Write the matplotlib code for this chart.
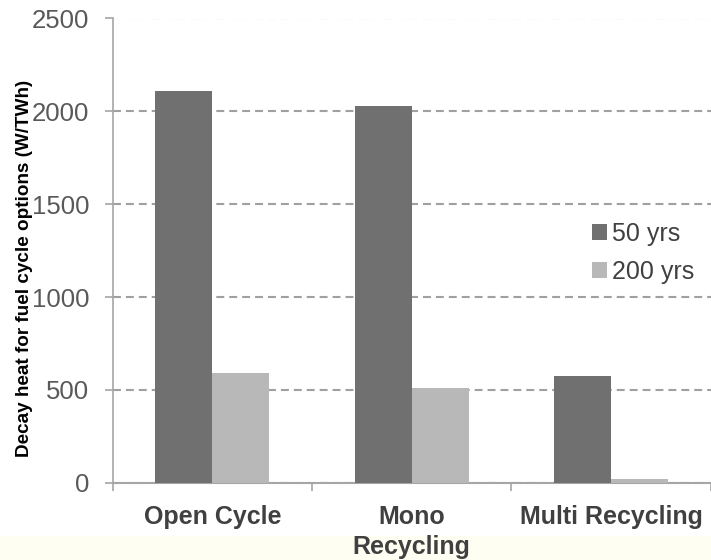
import numpy as np
import matplotlib
matplotlib.use("Agg")
import matplotlib.pyplot as plt
from matplotlib.patches import Rectangle

plt.rcParams['font.family'] = ['Liberation Sans', 'DejaVu Sans']

categories = ["Open Cycle", "Mono\nRecycling", "Multi Recycling"]
heat_50 = [2112, 2030, 572]
heat_200 = [592, 508, 18]
series_names = ["50 yrs", "200 yrs"]
yticks = [0, 500, 1000, 1500, 2000, 2500]

fig = plt.figure(figsize=(7.11, 5.60), dpi=100)
# faint cream strip along the bottom edge
fig.patches.append(Rectangle((0, 0), 1, 24 / 560, transform=fig.transFigure,
                             facecolor="#fefef3", edgecolor="none", zorder=-1))
ax = fig.add_axes([112.7 / 711, 1 - 482.7 / 560, 598 / 711, 464.2 / 560])

x = np.arange(len(categories))
w = 0.286
ax.bar(x - w / 2, heat_50, w, color="#707070", label=series_names[0], zorder=3)
ax.bar(x + w / 2, heat_200, w, color="#b8b8b8", label=series_names[1], zorder=3)

ax.set_xlim(-0.5, len(categories) - 0.5)
ax.set_ylim(0, 2500)
ax.set_yticks(yticks)
ax.yaxis.grid(True, color="#a0a0a0", linestyle=(0, (3.8, 2.4)), linewidth=1.5, zorder=0)

for s in ["top", "right"]:
    ax.spines[s].set_visible(False)
ax.spines["left"].set_color("#a6a6a6")
ax.spines["bottom"].set_color("#a6a6a6")
ax.spines["left"].set_linewidth(1.2)
ax.spines["bottom"].set_linewidth(1.5)

ax.set_xticks(np.arange(len(categories) + 1) - 0.5, minor=True)
ax.set_xticks(x)
ax.set_xticklabels(categories, fontsize=18, fontweight="bold", color="#404040",
                   linespacing=1.3)
ax.tick_params(axis="x", which="major", length=0, pad=16)
ax.tick_params(axis="x", which="minor", length=6, width=1.2, color="#a6a6a6")
ax.tick_params(axis="y", length=6, width=1.2, color="#a6a6a6", pad=11,
               labelsize=18.5, labelcolor="#595959")

fig.text(25 / 711, 1 - 268 / 560, "Decay heat for fuel cycle options (W/TWh)",
         rotation=90, fontsize=13.6, fontweight="bold", ha="center", va="center")

leg = ax.legend(loc="center left", bbox_to_anchor=(0.802, 0.495), frameon=False,
                fontsize=18, handlelength=0.6, handleheight=0.6,
                handletextpad=0.2, labelspacing=0.58, labelcolor="#404040",
                borderaxespad=0, borderpad=0)

fig.savefig("out.png", dpi=100)
